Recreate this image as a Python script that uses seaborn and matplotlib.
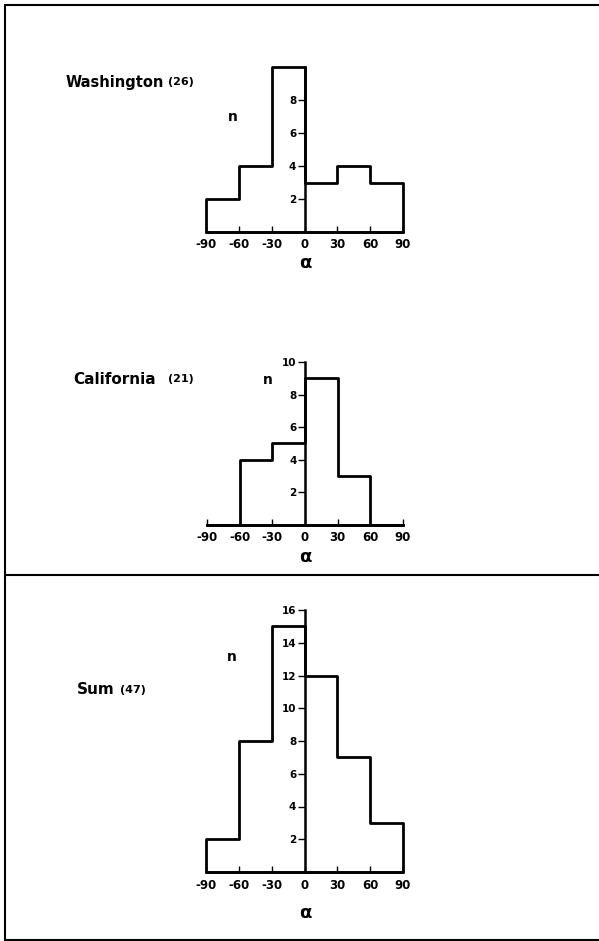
import numpy as np
import pandas as pd
import matplotlib
matplotlib.use("Agg")
import matplotlib.pyplot as plt
from matplotlib.lines import Line2D
import seaborn as sns

# ---- data ----
bin_edges = [-90, -60, -30, 0, 30, 60, 90]
x_ticks = [-90, -60, -30, 0, 30, 60, 90]
washington_counts = [2, 4, 10, 3, 4, 3]
california_counts = [0, 4, 5, 9, 3, 0]
sum_counts = [2, 8, 15, 12, 7, 3]
washington_yticks = [2, 4, 6, 8]
california_yticks = [2, 4, 6, 8, 10]
sum_yticks = [2, 4, 6, 8, 10, 12, 14, 16]
titles = ["Washington", "California", "Sum"]
title_counts = ["(26)", "(21)", "(47)"]

sns.set_theme(style="white")
plt.rcParams["font.family"] = ["DejaVu Sans"]
plt.rcParams["text.color"] = "black"

W, H = 599, 941
fig = plt.figure(figsize=(W / 100, H / 100), dpi=100)
fig.patch.set_facecolor("white")

centers = [(a + b) / 2 for a, b in zip(bin_edges[:-1], bin_edges[1:])]


def fx(px):
    return px / W


def fy(py):
    return 1 - py / H


def panel(counts, yticks, ymax, L, R, B, u, label_pad):
    ax = fig.add_axes([fx(L), fy(B), (R - L) / W, ymax * u / H])
    df = pd.DataFrame({"alpha": centers, "n": counts})
    sns.histplot(data=df, x="alpha", weights="n", bins=bin_edges,
                 element="step", fill=True, color="black", facecolor="none",
                 edgecolor="black", linewidth=2.0, ax=ax,
                 clip_on=False)
    ax.set_xlim(-90, 90)
    ax.set_ylim(0, ymax)
    ax.set_facecolor("none")
    for s in ["top", "right"]:
        ax.spines[s].set_visible(False)
    ax.spines["left"].set_position(("data", 0))
    ax.spines["left"].set_bounds(0, ymax)
    ax.spines["bottom"].set_bounds(-90, 90)
    for s in ["left", "bottom"]:
        ax.spines[s].set_color("black")
        ax.spines[s].set_linewidth(1.8)
    ax.set_xticks(x_ticks)
    ax.set_xticklabels([str(t) for t in x_ticks], fontsize=8.5,
                       fontweight="bold")
    ax.set_yticks(yticks)
    ax.set_yticklabels([str(t) for t in yticks], fontsize=7.5,
                       fontweight="bold")
    ax.tick_params(axis="x", direction="in", length=4, width=1,
                   pad=label_pad, colors="black", bottom=True)
    ax.tick_params(axis="y", direction="out", length=5, width=1,
                   pad=1, colors="black", left=True)
    ax.set_xlabel("")
    ax.set_ylabel("")
    ax.grid(False)
    return ax


panel(washington_counts, washington_yticks, 10, 206, 403, 232, 16.5, 4)
panel(california_counts, california_yticks, 10, 207, 403, 525, 16.3, 4)
panel(sum_counts, sum_yticks, 16, 206, 403, 872, 16.375, 5)

# titles
title_pos = [(66, 168, 82, 10.5), (73, 168, 379, 11), (77, 120, 690, 11)]
for t, c, (x1, x2, y, fs) in zip(titles, title_counts, title_pos):
    fig.text(fx(x1), fy(y), t, fontsize=fs, fontweight="bold",
             ha="left", va="center", color="black")
    fig.text(fx(x2), fy(y), c, fontsize=8, fontweight="bold",
             ha="left", va="center", color="black")

# axis labels
for (x, y) in [(233, 117), (268, 380), (232, 657)]:
    fig.text(fx(x), fy(y), "n", fontsize=10, fontweight="bold",
             ha="center", va="center", color="black")
for y in [263, 557, 913]:
    fig.text(fx(305), fy(y), "α", fontsize=13, fontweight="bold",
             ha="center", va="center", color="black")

# frame lines
lw = 1.5
fig.add_artist(Line2D([fx(5), fx(5)], [fy(5), fy(940)], color="black", lw=lw))
fig.add_artist(Line2D([fx(5), fx(599)], [fy(5), fy(5)], color="black", lw=lw))
fig.add_artist(Line2D([fx(5), fx(599)], [fy(575), fy(575)], color="black", lw=lw))
fig.add_artist(Line2D([fx(5), fx(599)], [fy(940), fy(940)], color="black", lw=lw))

fig.savefig("out.png", dpi=100)
